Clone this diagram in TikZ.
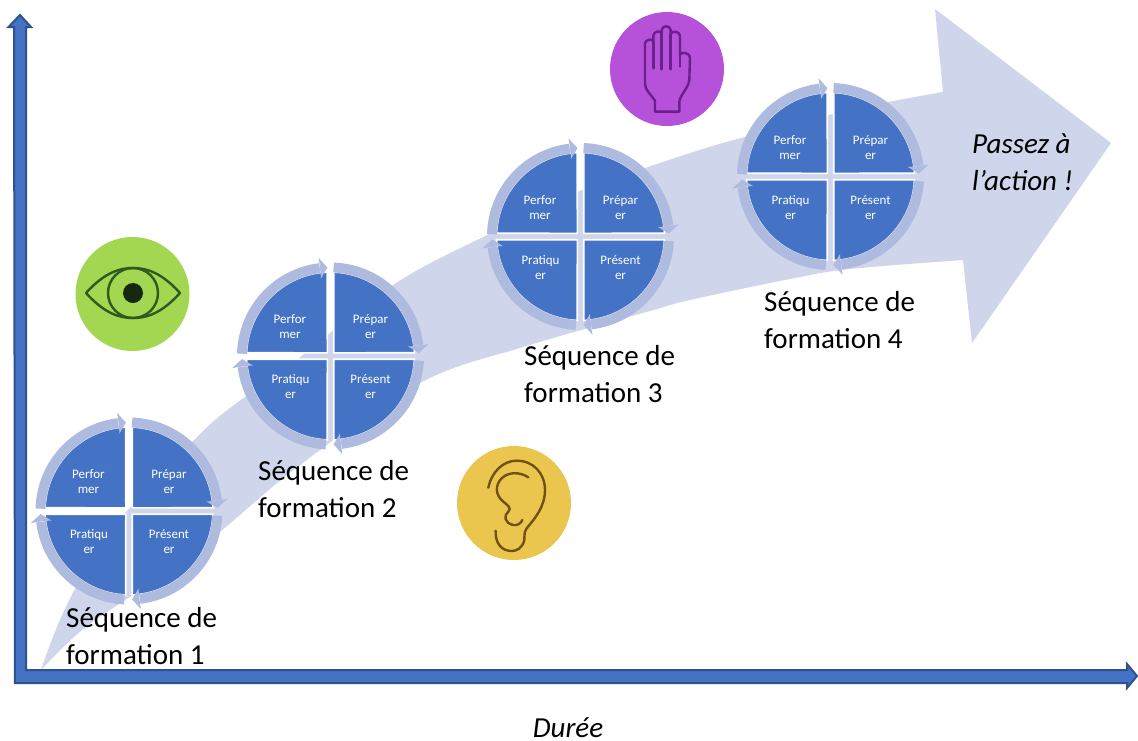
\documentclass[tikz,border=0pt]{standalone}
\usepackage{fontspec}
\setmainfont{Carlito}
\definecolor{axisblue}{HTML}{4472C4}
\definecolor{axisdark}{HTML}{2F528F}
\definecolor{ringblue}{HTML}{AEBBDF}
\definecolor{flow}{HTML}{CFD5EA}
\definecolor{eyegreen}{HTML}{A3D651}
\definecolor{eyeline}{HTML}{2F5A1E}
\definecolor{earyellow}{HTML}{EBC64E}
\definecolor{earline}{HTML}{6F5210}
\definecolor{handviolet}{HTML}{B552D9}
\definecolor{handline}{HTML}{6A1F8C}
\tikzset{
  quad/.style={fill=axisblue,draw=white,line width=1.6pt},
  ringplain/.style={draw=ringblue,line width=10pt},
  ringhead/.style={fill=ringblue},
  quadtext/.style={text=white,font=\fontsize{13}{15}\selectfont,align=center,inner sep=0pt},
  seqlabel/.style={anchor=west,align=left,inner sep=0pt,text=black,font=\fontsize{29}{37}\selectfont},
  italabel/.style={inner sep=0pt,text=black,font=\fontsize{29}{37}\selectfont\itshape},
  axisshape/.style={fill=axisblue,draw=axisdark,line width=2pt,line join=miter},
  icondisc/.style={circle,inner sep=0pt,minimum size=114pt},
  iconline/.style={line width=2.4pt,line cap=round,line join=round}
}
% one ring arrow, from angle #1 to arrow point at angle #2
\newcommand{\ringseg}[2]{%
  \pgfmathsetmacro{\ringend}{#2-5}%
  \draw[ringplain] (#1:88.5) arc[start angle=#1,end angle=\ringend,radius=88.5pt];
  \fill[ringhead] (\ringend+0.2:83.5) -- (\ringend:78) -- (#2:88.5) -- (\ringend:99) -- (\ringend+0.2:93.5) -- cycle;
}
\newcommand{\cycleat}[3]{%
  \begin{scope}[shift={(#2,#3)}]
    \path[quad] (-3.2,-3.2) -- (182.2:84) arc[start angle=182.2,end angle=267.8,radius=84pt] -- cycle;
    \path[quad] (3.2,-3.2) -- (272.2:84) arc[start angle=272.2,end angle=357.8,radius=84pt] -- cycle;
    \path[quad] (3.2,3.2) -- (2.2:84) arc[start angle=2.2,end angle=87.8,radius=84pt] -- cycle;
    \path[quad] (-3.2,3.2) -- (92.2:84) arc[start angle=92.2,end angle=177.8,radius=84pt] -- cycle;
    \ringseg{181.5}{268}
    \ringseg{272}{358}
    \ringseg{3}{88}
    \ringseg{93}{178}
    \node[quadtext] (#1perf) at (-40.5,-29) {Perfor\\mer};
    \node[quadtext] (#1prep) at (40,-29) {Prépar\\er};
    \node[quadtext] (#1prat) at (-40,31) {Pratiqu\\er};
    \node[quadtext] (#1pres) at (40,31) {Présent\\er};
  \end{scope}}
\begin{document}
\begin{tikzpicture}[x=1pt,y=1pt,yscale=-1]
\useasboundingbox (0,0) rectangle (1138,740);
\fill[white] (0,0) rectangle (1138,740);

% Big flow arrow
\fill[flow] plot[smooth,tension=0.6] coordinates {(41,670) (63,613) (100,545) (137,500) (197,437) (230,408) (290,365) (393,285) (487,235) (570,195) (648,167) (730,141) (850,110) (943,92)}
  -- (935,9) -- (1111,143) -- (972,343) -- (963,260)
  -- plot[smooth,tension=0.6] coordinates {(963,260) (850,269) (790,279) (690,300) (650,311) (523,347) (420,383) (300,465) (210,540) (140,590) (82,630) (41,670)} -- cycle;

% Axes
\coordinate (origin) at (15,683);
\coordinate (ytip) at (20,15);
\coordinate (xtip) at (1137,676);
\draw[axisshape] (origin) -- (14,27) -- (8.5,27) -- (ytip) -- (31,27) -- (26,27) -- (26,670)
  -- (1127,670) -- (1127,664) -- (xtip) -- (1127,688) -- (1127,683) -- cycle;

% Cycles
\cycleat{a}{129}{511}
\cycleat{b}{330.5}{356}
\cycleat{c}{580.5}{236.5}
\cycleat{d}{830.5}{176.5}

% Labels
\node[seqlabel] (s1) at (66,636) {Séquence de\\formation 1};
\node[seqlabel] (s2) at (258,489) {Séquence de\\formation 2};
\node[seqlabel] (s3) at (524,374) {Séquence de\\formation 3};
\node[seqlabel] (s4) at (764,320) {Séquence de\\formation 4};
\node[italabel,align=left,anchor=west] (action) at (972,162) {Passez à\\l’action !};
\node[italabel,anchor=base] (duree) at (568,737) {Durée};

% Eye
\node[icondisc,fill=eyegreen] (eye) at (132.5,294) {};
\draw[eyeline,iconline] (86,293) .. controls (105,272) and (120,268) .. (133,268) .. controls (146,268) and (161,272) .. (180,293) .. controls (161,314) and (146,318) .. (133,318) .. controls (120,318) and (105,314) .. (86,293) -- cycle;
\draw[eyeline,iconline] (133,293) circle[radius=25pt];
\fill[black!55!eyeline] (133,293) circle[radius=10pt];

% Ear
\node[icondisc,fill=earyellow] (ear) at (514,503) {};
\begin{scope}[shift={(445,440)},x=0.3333pt,y=0.3333pt]
\draw[earline,iconline] (130,143) .. controls (140,95) and (175,62) .. (215,62) .. controls (265,62) and (300,100) .. (300,150) .. controls (300,200) and (270,235) .. (245,265) .. controls (235,280) and (240,290) .. (238,300) .. controls (232,325) and (215,333) .. (200,333) .. controls (170,333) and (150,310) .. (152,272);
\draw[earline,iconline] (250,112) .. controls (225,95) and (190,95) .. (170,115) .. controls (150,135) and (150,165) .. (175,185) .. controls (190,197) and (200,205) .. (190,215) .. controls (175,225) and (178,250) .. (205,255) .. controls (218,257) and (228,250) .. (232,240);
\end{scope}

% Hand
\node[icondisc,fill=handviolet] (hand) at (667,69) {};
\begin{scope}[shift={(600,10)},x=0.3333pt,y=0.3333pt]
\draw[handline,iconline] (165,305) -- (165,272) .. controls (150,250) and (135,240) .. (135,220) -- (135,100) .. controls (135,88) and (160,85) .. (160,95) -- (160,78) .. controls (160,62) and (185,60) .. (185,72) -- (185,60) .. controls (187,45) and (210,45) .. (212,60) -- (212,72) .. controls (214,62) and (240,62) .. (240,78) -- (240,135) .. controls (240,125) and (270,125) .. (270,145) -- (268,210) .. controls (265,235) and (240,255) .. (238,275) -- (238,305) -- cycle;
\draw[handline,iconline] (160,95) -- (160,175);
\draw[handline,iconline] (185,72) -- (185,178);
\draw[handline,iconline] (212,72) -- (212,178);
\draw[handline,iconline] (240,135) -- (240,170);
\end{scope}
\end{tikzpicture}
\end{document}
